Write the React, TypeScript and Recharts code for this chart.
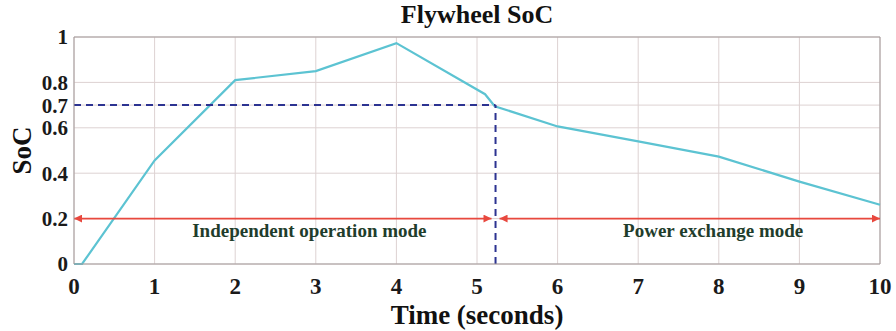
import { CartesianGrid, Line, LineChart, ReferenceDot, ReferenceLine, XAxis, YAxis } from "recharts";

const TIME = [0, 0.1, 1, 2, 3, 4, 5.1, 5.22, 6, 7, 8, 9, 10];
const SOC = [0, 0, 0.456, 0.81, 0.85, 0.973, 0.748, 0.695, 0.606, 0.54, 0.473, 0.363, 0.261];

const X_TICKS = [0, 1, 2, 3, 4, 5, 6, 7, 8, 9, 10];
const Y_TICKS = [0, 0.2, 0.4, 0.6, 0.7, 0.8, 1];

// switch point between the two modes
const SWITCH_T = 5.23;
const SWITCH_SOC = 0.7;

const MODE_NAMES = ["Independent operation mode", "Power exchange mode"];
const MODE_FROM = [0, 5.28];
const MODE_TO = [5.18, 10];
const MODE_LABEL_T = [2.92, 7.93];
const MODE_SOC = 0.2;
const MODE_LABEL_SOC = 0.148;

const FONT = '"Liberation Serif", "Times New Roman", serif';
const AXIS_GRAY = "#a39a9a";
const GRID = "#ddd2d2";
const RED = "#e8483e";
const NAVY = "#2c3391";

const rows = TIME.map((t, i) => ({ t, soc: SOC[i] }));

const arrowShape = (p: any) => (
  <line
    x1={p.x1}
    y1={p.y1}
    x2={p.x2}
    y2={p.y2}
    stroke={RED}
    strokeWidth={1.6}
    markerStart="url(#arrow-head)"
    markerEnd="url(#arrow-head)"
  />
);

export default function App() {
  const xTick = { fontSize: 23, fontWeight: 700, fill: "#1a1a1a", fontFamily: FONT };
  const yTick = { fontSize: 21, fontWeight: 700, fill: "#1a1a1a", fontFamily: FONT };
  return (
    <div style={{ position: "absolute", left: 0, top: 0, width: 896, height: 331, background: "#fff" }}>
      <div
        style={{
          position: "absolute",
          left: 0,
          width: 954,
          top: 0,
          textAlign: "center",
          fontFamily: FONT,
          fontWeight: 700,
          fontSize: 26,
          lineHeight: "30px",
          color: "#111",
        }}
      >
        Flywheel SoC
      </div>
      <LineChart width={896} height={331} data={rows} margin={{ top: 37, right: 16, bottom: 0, left: 0 }}>
        <defs>
          <marker
            id="arrow-head"
            viewBox="0 0 10 10"
            refX={10}
            refY={5}
            markerWidth={9}
            markerHeight={8}
            markerUnits="userSpaceOnUse"
            orient="auto-start-reverse"
          >
            <path d="M0,0 L10,5 L0,10 z" fill={RED} />
          </marker>
        </defs>
        <CartesianGrid stroke={GRID} strokeWidth={1} />
        <XAxis
          dataKey="t"
          type="number"
          domain={[0, 10]}
          ticks={X_TICKS}
          interval={0}
          height={67}
          tickSize={0}
          tickMargin={14}
          tick={xTick}
          stroke={AXIS_GRAY}
          label={{
            value: "Time (seconds)",
            position: "insideBottom",
            offset: 7,
            style: { fontSize: 27, fontWeight: 700, fill: "#111", fontFamily: FONT },
          }}
        />
        <YAxis
          type="number"
          domain={[0, 1]}
          ticks={Y_TICKS}
          interval={0}
          width={74}
          tickSize={0}
          tickMargin={6}
          tick={yTick}
          stroke={AXIS_GRAY}
          label={{
            value: "SoC",
            angle: -90,
            position: "insideLeft",
            offset: 21,
            style: { fontSize: 27, fontWeight: 700, fill: "#111", fontFamily: FONT, textAnchor: "middle" },
          }}
        />
        <ReferenceLine y={1} stroke={AXIS_GRAY} />
        <ReferenceLine x={10} stroke={AXIS_GRAY} />
        <Line
          type="linear"
          dataKey="soc"
          stroke="#5cc3d2"
          strokeWidth={2.2}
          dot={false}
          isAnimationActive={false}
        />
        <ReferenceLine
          segment={[{ x: 0, y: SWITCH_SOC }, { x: SWITCH_T, y: SWITCH_SOC }]}
          stroke={NAVY}
          strokeWidth={2}
          strokeDasharray="7 5"
        />
        <ReferenceLine
          segment={[{ x: SWITCH_T, y: 0 }, { x: SWITCH_T, y: SWITCH_SOC }]}
          stroke={NAVY}
          strokeWidth={2}
          strokeDasharray="7 5"
        />
        {MODE_NAMES.map((name, i) => (
          <ReferenceLine
            key={`m${i}`}
            segment={[{ x: MODE_FROM[i], y: MODE_SOC }, { x: MODE_TO[i], y: MODE_SOC }]}
            shape={arrowShape}
          />
        ))}
        {MODE_NAMES.map((name, i) => (
          <ReferenceDot
            key={`l${i}`}
            x={MODE_LABEL_T[i]}
            y={MODE_LABEL_SOC}
            r={0}
            fill="none"
            stroke="none"
            label={{
              value: name,
              position: "center",
              style: { fontSize: 19, fontWeight: 700, fill: "#1f3d2c", fontFamily: FONT },
            }}
          />
        ))}
      </LineChart>
    </div>
  );
}
